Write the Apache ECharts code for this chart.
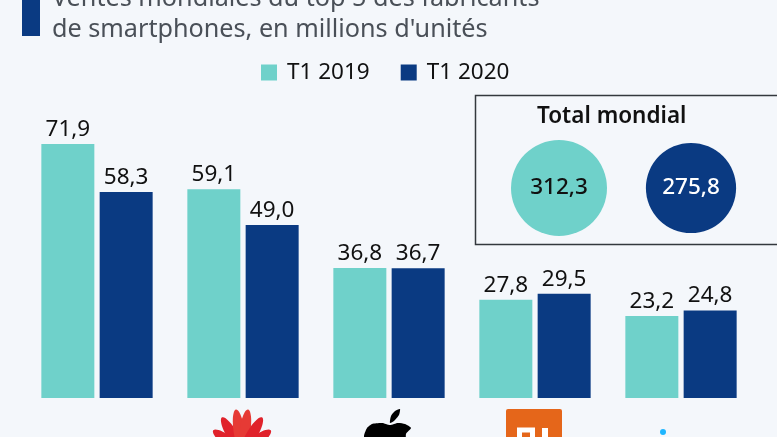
<!DOCTYPE html>
<html>
<head>
<meta charset="utf-8">
<style>html,body{margin:0;padding:0;background:#f4f7fb;overflow:hidden}#chart{width:777px;height:437px}</style>
<script src="https://cdn.jsdelivr.net/npm/echarts@6/dist/echarts.min.js"></script>
</head>
<body>
<div id="chart"></div>
<script>
// Data
var brands = ['Samsung', 'Huawei', 'Apple', 'Xiaomi', 'Vivo'];
var sales2019 = [71.9, 59.1, 36.8, 27.8, 23.2];
var sales2020 = [58.3, 49.0, 36.7, 29.5, 24.8];
var totalNames = ['T1 2019', 'T1 2020'];
var totals = [312.3, 275.8];

var teal = '#6fd1ca';
var navy = '#0a3a82';
var font = '"Noto Sans", "Open Sans", sans-serif';

function frNumber(v) {
    return v.toFixed(1).replace('.', ',');
}

var myChart = echarts.init(document.getElementById('chart'));

// Huawei petals fan out from the bottom of the logo: [angle, length]
var logos = [];
[[-53, 36], [-30, 40], [-8, 43], [8, 43], [30, 40], [53, 36]].forEach(function (p) {
    logos.push({
        type: 'ellipse', x: 242, y: 452, rotation: -p[0] * Math.PI / 180,
        shape: { cx: 0, cy: -p[1] / 2, rx: 5.5, ry: p[1] / 2 },
        style: { fill: p[1] === 43 ? '#e63a35' : '#e0222b' }
    });
});
// Apple
logos.push({ type: 'polygon', shape: { smooth: 0.2, points: [[400, 409], [399, 415], [394, 421], [390, 423], [391, 416], [395, 411]] }, style: { fill: '#000' } });
logos.push({ type: 'polygon', shape: { smooth: 0.2, points: [[372, 424], [382, 423], [390, 425], [398, 423], [405, 424], [411, 428], [406, 434], [405, 446], [366, 446], [364, 436], [367, 428]] }, style: { fill: '#000' } });
// Xiaomi
logos.push({ type: 'rect', shape: { x: 506, y: 409, width: 56, height: 40, r: 2 }, style: { fill: '#e5661a' } });
logos.push({ type: 'rect', shape: { x: 519.5, y: 430, width: 13, height: 16 }, style: { fill: 'none', stroke: '#fff', lineWidth: 5 } });
logos.push({ type: 'rect', shape: { x: 542, y: 428, width: 6, height: 20 }, style: { fill: '#fff' } });
// Vivo
logos.push({ type: 'circle', shape: { cx: 663, cy: 432, r: 3 }, style: { fill: '#1fb6ff' } });

var option = {
    backgroundColor: '#f4f7fb',
    animation: false,
    textStyle: { fontFamily: font },
    legend: {
        data: ['T1 2019', 'T1 2020'],
        left: 261, top: 61, padding: 0,
        itemWidth: 16, itemHeight: 16, itemGap: 31,
        icon: 'rect',
        textStyle: { fontFamily: font, fontSize: 22.5, color: '#111', padding: [0, 0, 0, 5] }
    },
    grid: [
        { left: 24, top: 115.4, width: 730, height: 282.6 },
        { left: 493, top: 140, width: 264, height: 96 }
    ],
    xAxis: [
        { type: 'category', data: brands, gridIndex: 0, axisLine: { show: false }, axisTick: { show: false }, axisLabel: { show: false } },
        { type: 'category', data: totalNames, gridIndex: 1, show: false }
    ],
    yAxis: [
        { type: 'value', min: 0, max: 80, gridIndex: 0, show: false },
        { type: 'value', min: -1, max: 1, gridIndex: 1, show: false }
    ],
    series: [
        {
            name: 'T1 2019', type: 'bar', data: sales2019, barWidth: 53, barGap: '10%',
            itemStyle: { color: teal },
            label: { show: true, position: 'top', distance: 3, fontFamily: font, fontSize: 22.5, color: '#111', formatter: function (p) { return frNumber(p.value); } }
        },
        {
            name: 'T1 2020', type: 'bar', data: sales2020, barWidth: 53,
            itemStyle: { color: navy },
            label: { show: true, position: 'top', distance: 3, fontFamily: font, fontSize: 22.5, color: '#111', formatter: function (p) { return frNumber(p.value); } }
        },
        {
            // Total circles: area follows the value
            name: 'Total mondial', type: 'scatter', xAxisIndex: 1, yAxisIndex: 1,
            data: totals.map(function (v, i) {
                return {
                    value: [i, 0],
                    total: v,
                    symbolSize: 2 * 2.716 * Math.sqrt(v),
                    itemStyle: { color: i === 0 ? teal : navy, opacity: 1 },
                    label: { color: i === 0 ? '#111' : '#fff' }
                };
            }),
            label: {
                show: true, position: 'inside', fontFamily: font, fontSize: 22.5, fontWeight: 500,
                formatter: function (p) { return frNumber(p.data.total); }
            }
        }
    ],
    graphic: [
        { type: 'rect', shape: { x: 22, y: -2, width: 18, height: 38 }, style: { fill: navy } },
        { type: 'text', x: 52, y: -14, style: { text: 'Ventes mondiales du top 5 des fabricants', font: '25.2px ' + font, fill: '#4a5058' } },
        { type: 'text', x: 52, y: 17, style: { text: "de smartphones, en millions d'unités", font: '25.2px ' + font, fill: '#4a5058' } },
        { type: 'rect', z: -1, shape: { x: 475.5, y: 95.5, width: 320, height: 149 }, style: { fill: 'none', stroke: '#33383d', lineWidth: 1.5 } },
        { type: 'text', x: 537, y: 105, style: { text: 'Total mondial', font: '600 22.5px ' + font, fill: '#111' } }
    ].concat(logos)
};

myChart.setOption(option);
</script>
</body>
</html>
